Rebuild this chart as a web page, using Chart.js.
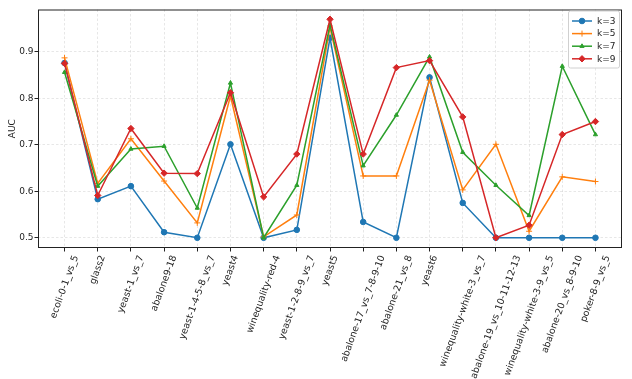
<!DOCTYPE html>
<html>
<head>
<meta charset="utf-8">
<script src="https://cdn.jsdelivr.net/npm/chart.js@4.4.0/dist/chart.umd.min.js"></script>
<style>
  html, body { margin: 0; padding: 0; background: #fff; }
  canvas { display: block; }
</style>
</head>
<body>
<canvas id="auc-chart" width="632" height="379"></canvas>
<script>
// dataset names on the x axis
const datasetNames = [
  "ecoli-0-1_vs_5", "glass2", "yeast-1_vs_7", "abalone9-18", "yeast-1-4-5-8_vs_7",
  "yeast4", "winequality-red-4", "yeast-1-2-8-9_vs_7", "yeast5", "abalone-17_vs_7-8-9-10",
  "abalone-21_vs_8", "yeast6", "winequality-white-3_vs_7", "abalone-19_vs_10-11-12-13",
  "winequality-white-3-9_vs_5", "abalone-20_vs_8-9-10", "poker-8-9_vs_5"
];

const seriesLabels = ["k=3", "k=5", "k=7", "k=9"];

// AUC per dataset, one array per k
const aucK3 = [0.876, 0.583, 0.611, 0.512, 0.500, 0.701, 0.500, 0.517, 0.930, 0.534, 0.500, 0.845, 0.575, 0.500, 0.500, 0.500, 0.500];
const aucK5 = [0.887, 0.617, 0.713, 0.622, 0.532, 0.805, 0.502, 0.549, 0.953, 0.633, 0.633, 0.839, 0.603, 0.701, 0.514, 0.631, 0.621];
const aucK7 = [0.856, 0.611, 0.691, 0.697, 0.564, 0.833, 0.500, 0.613, 0.958, 0.655, 0.764, 0.889, 0.684, 0.613, 0.548, 0.869, 0.722];
const aucK9 = [0.875, 0.591, 0.735, 0.639, 0.638, 0.812, 0.588, 0.680, 0.970, 0.680, 0.866, 0.881, 0.760, 0.500, 0.527, 0.722, 0.750];

const yTicks = [0.5, 0.6, 0.7, 0.8, 0.9];

const colors = ["#1f77b4", "#ff7f0e", "#2ca02c", "#d62728"];
const markers = [
  { style: "circle", radius: 2.8, width: 1 },
  { style: "cross", radius: 3, width: 1 },
  { style: "triangle", radius: 2.4, width: 1 },
  { style: "rectRot", radius: 3.2, width: 1 }
];
const FONT = '"DejaVu Sans", sans-serif';

const allSeries = [aucK3, aucK5, aucK7, aucK9];

const datasets = allSeries.map((values, index) => ({
  label: seriesLabels[index],
  data: values.map((v, i) => ({ x: i, y: v })),
  borderColor: colors[index],
  backgroundColor: colors[index],
  borderWidth: 1.5,
  pointStyle: markers[index].style,
  pointRadius: markers[index].radius,
  pointBorderWidth: markers[index].width,
  pointHoverRadius: markers[index].radius,
  tension: 0,
  fill: false,
  order: allSeries.length - index
}));

// frame, rotated x labels and the in-plot legend
const extrasPlugin = {
  id: "extras",
  afterDraw(chart) {
    const ctx = chart.ctx;
    const area = chart.chartArea;
    const xScale = chart.scales.x;

    ctx.save();
    ctx.strokeStyle = "#222";
    ctx.lineWidth = 1;
    ctx.strokeRect(area.left + 0.5, area.top + 0.5, area.right - area.left - 1, area.bottom - area.top - 1);

    ctx.fillStyle = "#222";
    ctx.font = "9.4px " + FONT;
    const angle = 70 * Math.PI / 180;
    datasetNames.forEach((name, i) => {
      const px = xScale.getPixelForValue(i);
      const w = ctx.measureText(name).width;
      const h = 10;
      const boxH = w * Math.sin(angle) + h * Math.cos(angle);
      const cy = area.bottom + 6 + boxH / 2;
      ctx.save();
      ctx.translate(px, cy);
      ctx.rotate(-angle);
      ctx.textAlign = "center";
      ctx.textBaseline = "middle";
      ctx.fillText(name, 0, 0);
      ctx.restore();
    });

    // legend
    const lx = 568, ly = 10.5, lw = 51, lh = 57;
    ctx.beginPath();
    ctx.roundRect(lx + 0.5, ly + 0.5, lw, lh, 2);
    ctx.fillStyle = "rgba(255,255,255,0.85)";
    ctx.fill();
    ctx.strokeStyle = "#d0d0d0";
    ctx.stroke();

    chart.data.datasets.forEach((ds, i) => {
      const rowY = 21 + i * 12.6;
      ctx.strokeStyle = ds.borderColor;
      ctx.fillStyle = ds.backgroundColor;
      ctx.lineWidth = 1.5;
      ctx.beginPath();
      ctx.moveTo(572, rowY);
      ctx.lineTo(592, rowY);
      ctx.stroke();
      ctx.lineWidth = ds.pointBorderWidth;
      Chart.helpers.drawPoint(ctx, {
        pointStyle: ds.pointStyle,
        radius: ds.pointRadius,
        rotation: 0,
        borderWidth: ds.pointBorderWidth
      }, 582, rowY);
      ctx.fillStyle = "#222";
      ctx.font = "9px " + FONT;
      ctx.textAlign = "left";
      ctx.textBaseline = "middle";
      ctx.fillText(ds.label, 597, rowY + 0.5);
    });
    ctx.restore();
  }
};

new Chart(document.getElementById("auc-chart").getContext("2d"), {
  type: "line",
  data: { datasets: datasets },
  options: {
    responsive: false,
    animation: false,
    devicePixelRatio: 1,
    layout: { padding: { top: 9.5, right: 10, left: 0, bottom: 0 } },
    plugins: {
      legend: { display: false },
      tooltip: { enabled: false }
    },
    scales: {
      x: {
        type: "linear",
        min: -0.8,
        max: 16.8,
        afterBuildTicks: (axis) => {
          axis.ticks = datasetNames.map((_, i) => ({ value: i }));
        },
        afterFit: (axis) => { axis.height = 131; },
        ticks: { display: false },
        grid: {
          color: "rgba(0,0,0,0.12)",
          lineWidth: 0.8,
          drawTicks: true,
          tickLength: 3.5,
          tickColor: "#222",
          tickWidth: 1,
          tickBorderDash: []
        },
        border: { display: false, dash: [2.5, 2] }
      },
      y: {
        type: "linear",
        min: 0.478,
        max: 0.991,
        afterBuildTicks: (axis) => {
          axis.ticks = yTicks.map((v) => ({ value: v }));
        },
        afterFit: (axis) => { axis.width = 38; },
        ticks: {
          color: "#222",
          font: { family: FONT, size: 9 },
          padding: 1,
          callback: (value) => value.toFixed(1)
        },
        title: {
          display: true,
          text: "AUC",
          color: "#222",
          font: { family: FONT, size: 9 },
          padding: { top: 7, bottom: 0 }
        },
        grid: {
          color: "rgba(0,0,0,0.12)",
          lineWidth: 0.8,
          drawTicks: true,
          tickLength: 3.5,
          tickColor: "#222",
          tickWidth: 1,
          tickBorderDash: []
        },
        border: { display: false, dash: [2.5, 2] }
      }
    }
  },
  plugins: [extrasPlugin]
});
</script>
</body>
</html>
